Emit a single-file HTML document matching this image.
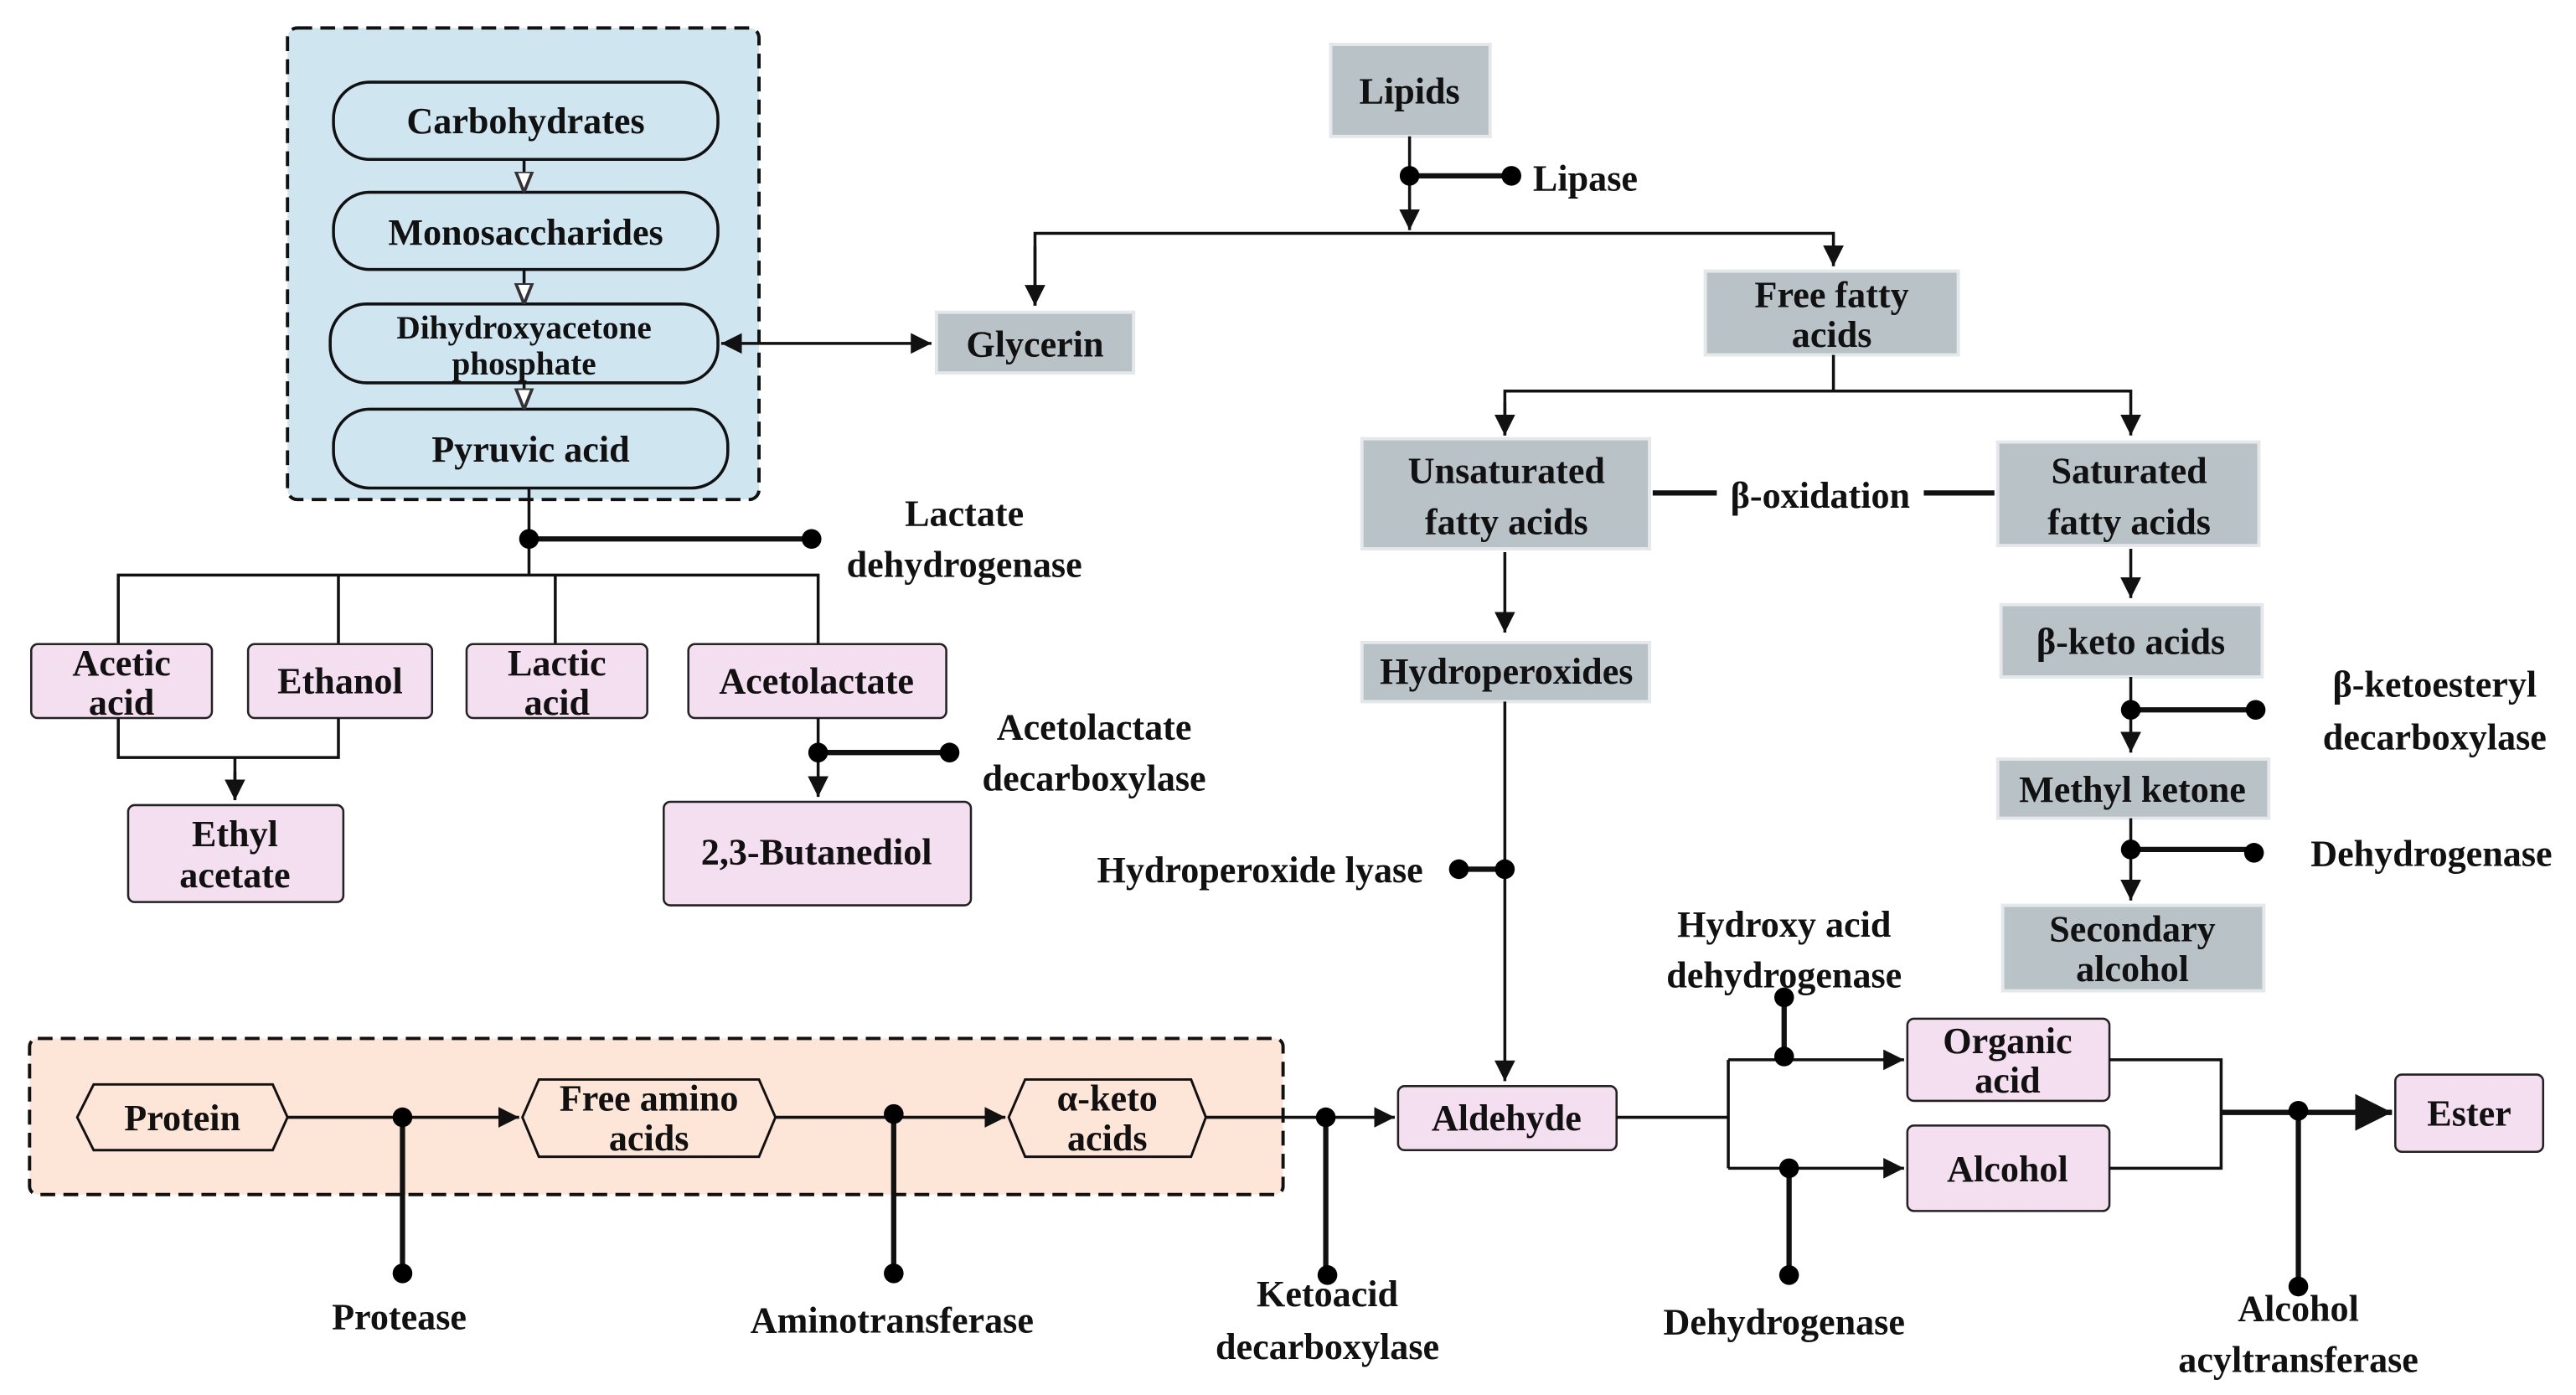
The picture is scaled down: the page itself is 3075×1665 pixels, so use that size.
<!DOCTYPE html>
<html><head><meta charset="utf-8"><style>
html,body{margin:0;padding:0;background:#fff;width:3075px;height:1665px;overflow:hidden}
svg{display:block}
text{font-family:"Liberation Serif","Times New Roman",serif;font-weight:bold;font-size:22.5px;fill:#111;text-anchor:middle}
.b{fill:#cfe5ef;stroke:#111;stroke-width:1.8}
.p{fill:#f4dff1;stroke:#222;stroke-width:1.3}
.g{fill:#b8c2c7;stroke:#e4e8ea;stroke-width:2}
.l{stroke:#111;stroke-width:1.8;fill:none}
.t{stroke:#111;stroke-width:3.2;fill:none}
</style></head><body>
<svg width="3075" height="1665" viewBox="0 0 1568 849" xmlns="http://www.w3.org/2000/svg">
<defs>
<marker id="a" viewBox="0 0 10 10" refX="10" refY="5" markerWidth="7" markerHeight="7" orient="auto-start-reverse"><path d="M0,0L10,5L0,10z" fill="#111"/></marker>
<marker id="o" viewBox="0 0 10 10" refX="10" refY="5" markerWidth="7" markerHeight="7" orient="auto"><path d="M0,1L10,5L0,9z" fill="#fff" stroke="#333" stroke-width="1.5"/></marker>
</defs>
<rect x="175" y="17" width="287" height="287" rx="6" fill="#cfe5ef" stroke="#111" stroke-width="2" stroke-dasharray="9,5"/>
<rect class="b" x="203" y="50" width="234" height="47" rx="22"/><text x="320" y="81">Carbohydrates</text>
<rect class="b" x="203" y="117" width="234" height="47" rx="22"/><text x="320" y="149">Monosaccharides</text>
<rect class="b" x="201" y="185" width="236" height="48" rx="22"/><text x="319" y="206" style="font-size:20px">Dihydroxyacetone</text><text x="319" y="228" style="font-size:20px">phosphate</text>
<rect class="b" x="203" y="249" width="240" height="48" rx="22"/><text x="323" y="281">Pyruvic acid</text>
<path class="l" d="M319,97V117" marker-end="url(#o)"/><path class="l" d="M319,164V185" marker-end="url(#o)"/><path class="l" d="M319,233V249" marker-end="url(#o)"/>
<path class="l" d="M439,209H567" marker-start="url(#a)" marker-end="url(#a)"/>
<rect class="g" x="570" y="190" width="120" height="37"/><text x="630" y="217">Glycerin</text>
<rect class="g" x="810" y="27" width="97" height="56"/><text x="858" y="63">Lipids</text>
<path class="l" d="M858,83V140" marker-end="url(#a)"/>
<path class="t" d="M858,107H920"/><circle cx="858" cy="107" r="6"/><circle cx="920" cy="107" r="6"/>
<text x="965" y="116">Lipase</text>
<path class="l" d="M630,186V142H1116V162" marker-end="url(#a)"/><path class="l" d="M630,150V186" marker-end="url(#a)"/>
<rect class="g" x="1038" y="165" width="154" height="51"/><text x="1115" y="187">Free fatty</text><text x="1115" y="211">acids</text>
<path class="l" d="M1116,216V238M916,265V238H1297V265" marker-end="url(#a)"/><path class="l" d="M916,245V265" marker-end="url(#a)"/>
<rect class="g" x="829" y="267" width="175" height="67"/><text x="917" y="294">Unsaturated</text><text x="917" y="325">fatty acids</text>
<rect class="g" x="1216" y="269" width="159" height="63"/><text x="1296" y="294">Saturated</text><text x="1296" y="325">fatty acids</text>
<path class="t" d="M1006,300H1045M1171,300H1214"/><text x="1108" y="309">β-oxidation</text>
<path class="l" d="M916,336V385" marker-end="url(#a)"/>
<rect class="g" x="829" y="391" width="175" height="36"/><text x="917" y="416">Hydroperoxides</text>
<path class="l" d="M916,427V658" marker-end="url(#a)"/>
<path class="t" d="M888,529H916"/><circle cx="888" cy="529" r="6"/><circle cx="916" cy="529" r="6"/>
<text x="767" y="537">Hydroperoxide lyase</text>
<path class="l" d="M1297,334V364" marker-end="url(#a)"/>
<rect class="g" x="1218" y="368" width="159" height="44"/><text x="1297" y="398">β-keto acids</text>
<path class="l" d="M1297,412V458" marker-end="url(#a)"/>
<path class="t" d="M1297,432H1373"/><circle cx="1297" cy="432" r="6"/><circle cx="1373" cy="432" r="6"/>
<text x="1482" y="424">β-ketoesteryl</text><text x="1482" y="456">decarboxylase</text>
<rect class="g" x="1216" y="462" width="165" height="36"/><text x="1298" y="488">Methyl ketone</text>
<path class="l" d="M1297,498V548" marker-end="url(#a)"/>
<path class="t" d="M1297,517H1372"/><circle cx="1297" cy="517" r="6"/><circle cx="1372" cy="519" r="6"/>
<text x="1480" y="527">Dehydrogenase</text>
<rect class="g" x="1219" y="551" width="159" height="52"/><text x="1298" y="573">Secondary</text><text x="1298" y="597">alcohol</text>
<path class="l" d="M322,297V350M72,392V350H498V392M206,350V392M338,350V392"/>
<path class="t" d="M322,328H494"/><circle cx="322" cy="328" r="6"/><circle cx="494" cy="328" r="6"/>
<text x="587" y="320">Lactate</text><text x="587" y="351">dehydrogenase</text>
<rect class="p" x="19" y="392" width="110" height="45" rx="4"/><text x="74" y="411">Acetic</text><text x="74" y="435">acid</text>
<rect class="p" x="151" y="392" width="112" height="45" rx="4"/><text x="207" y="422">Ethanol</text>
<rect class="p" x="284" y="392" width="110" height="45" rx="4"/><text x="339" y="411">Lactic</text><text x="339" y="435">acid</text>
<rect class="p" x="419" y="392" width="157" height="45" rx="4"/><text x="497" y="422">Acetolactate</text>
<path class="l" d="M72,437V461H206V437M143,461V486" /><path class="l" d="M143,470V487" marker-end="url(#a)"/>
<rect class="p" x="78" y="490" width="131" height="59" rx="4"/><text x="143" y="515">Ethyl</text><text x="143" y="540">acetate</text>
<path class="l" d="M498,437V485" marker-end="url(#a)"/>
<path class="t" d="M498,458H578"/><circle cx="498" cy="458" r="6"/><circle cx="578" cy="458" r="6"/>
<text x="666" y="450">Acetolactate</text><text x="666" y="481">decarboxylase</text>
<rect class="p" x="404" y="488" width="187" height="63" rx="4"/><text x="497" y="526">2,3-Butanediol</text>
<rect x="18" y="632" width="763" height="95" rx="5" fill="#fde6d7" stroke="#111" stroke-width="2" stroke-dasharray="9,5"/>
<path d="M57,660H166L175,680L166,700H57L47,680Z" fill="#fde6d7" stroke="#111" stroke-width="1.5"/><text x="111" y="688">Protein</text>
<path d="M328,657H462L472,680L462,704H328L318,680Z" fill="#fde6d7" stroke="#111" stroke-width="1.5"/><text x="395" y="676">Free amino</text><text x="395" y="700">acids</text>
<path d="M624,657H725L734,680L725,704H624L614,680Z" fill="#fde6d7" stroke="#111" stroke-width="1.5"/><text x="674" y="676">α-keto</text><text x="674" y="700">acids</text>
<path class="l" d="M175,680H316" marker-end="url(#a)"/><path class="l" d="M472,680H612" marker-end="url(#a)"/><path class="l" d="M734,680H849" marker-end="url(#a)"/>
<path class="t" d="M245,680V775M544,680V775M807,680V776"/>
<circle cx="245" cy="680" r="6"/><circle cx="245" cy="775" r="6"/><circle cx="544" cy="678" r="6"/><circle cx="544" cy="775" r="6"/><circle cx="807" cy="680" r="6"/><circle cx="808" cy="776" r="6"/>
<text x="243" y="809">Protease</text><text x="543" y="811">Aminotransferase</text>
<text x="808" y="795">Ketoacid</text><text x="808" y="827">decarboxylase</text>
<rect class="p" x="851" y="661" width="133" height="39" rx="4"/><text x="917" y="688">Aldehyde</text>
<path class="l" d="M984,680H1052M1052,645V711"/>
<path class="l" d="M1052,645H1159" marker-end="url(#a)"/><path class="l" d="M1052,711H1159" marker-end="url(#a)"/>
<path class="t" d="M1086,607V643M1089,711V776"/>
<circle cx="1086" cy="607" r="6"/><circle cx="1086" cy="643" r="6"/><circle cx="1089" cy="711" r="6"/><circle cx="1089" cy="776" r="6"/>
<text x="1086" y="570">Hydroxy acid</text><text x="1086" y="601">dehydrogenase</text><text x="1086" y="812">Dehydrogenase</text>
<rect class="p" x="1161" y="620" width="123" height="50" rx="4"/><text x="1222" y="641">Organic</text><text x="1222" y="665">acid</text>
<rect class="p" x="1161" y="685" width="123" height="52" rx="4"/><text x="1222" y="719">Alcohol</text>
<path class="l" d="M1284,645H1352V711H1284"/>
<path class="t" d="M1352,677H1456" marker-end="url(#a)"/>
<path class="t" d="M1399,676V783"/><circle cx="1399" cy="676" r="6"/><circle cx="1399" cy="783" r="6"/>
<text x="1399" y="804">Alcohol</text><text x="1399" y="835">acyltransferase</text>
<rect class="p" x="1458" y="654" width="90" height="47" rx="4"/><text x="1503" y="685">Ester</text>
</svg>
</body></html>
